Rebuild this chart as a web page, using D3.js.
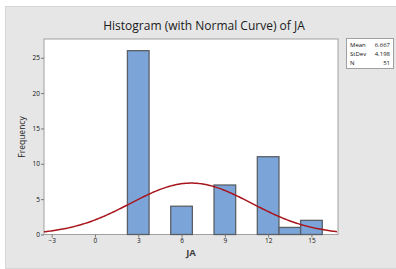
<!DOCTYPE html>
<html><head><meta charset="utf-8">
<script src="https://cdn.jsdelivr.net/npm/d3@7"></script>
<style>body{margin:0;background:#fff}svg{display:block}text{font-family:"Open Sans","Noto Sans",sans-serif}</style>
</head><body>
<svg id="c" width="396" height="269"></svg>
<script>
const binMids = [3, 4.5, 6, 7.5, 9, 10.5, 12, 13.5, 15];
const counts = [26, 0, 4, 0, 7, 0, 11, 1, 2];
const binWidth = 1.5;
const xTicks = [-3, 0, 3, 6, 9, 12, 15];
const yTicks = [0, 5, 10, 15, 20, 25];
const statLabels = ["Mean", "StDev", "N"];
const statValues = ["6.667", "4.198", "51"];
const mean = 6.667, sd = 4.198, n = 51;

const svg = d3.select("#c");
svg.append("rect").attr("x",5.5).attr("y",6.5).attr("width",392).attr("height",262)
  .attr("fill","#e6e6e6").attr("stroke","#d6d6d6");

const L=44, R=338, T=39, B=234.5;
const x = d3.scaleLinear().domain([-3.53, 16.84]).range([L, R]);
const y = d3.scaleLinear().domain([0, 27.65]).range([B, T]);

svg.append("rect").attr("x",L).attr("y",T).attr("width",R-L).attr("height",B-T)
  .attr("fill","#fff").attr("stroke","#a0a0a0");

const g = svg.append("g");
g.selectAll("rect.bar").data(binMids.map((m,i)=>({m,c:counts[i]})).filter(d=>d.c>0))
  .enter().append("rect").attr("class","bar")
  .attr("x",d=>x(d.m-binWidth/2)).attr("width",d=>x(d.m+binWidth/2)-x(d.m-binWidth/2))
  .attr("y",d=>y(d.c)).attr("height",d=>y(0)-y(d.c))
  .attr("fill","#7ba4d9").attr("stroke","#5a5f66").attr("stroke-width",1.3);

// fitted normal curve from the displayed Mean / StDev / N
const xs = d3.range(-3.53, 16.85, 0.1);
const dens = v => n*binWidth*Math.exp(-0.5*((v-mean)/sd)**2)/(sd*Math.sqrt(2*Math.PI));
g.append("path").datum(xs).attr("fill","none").attr("stroke","#a8151c").attr("stroke-width",1.5)
  .attr("d", d3.line().x(v=>x(v)).y(v=>y(dens(v))));

const xa = svg.append("g").attr("transform",`translate(0,${B})`)
  .call(d3.axisBottom(x).tickValues(xTicks).tickSize(3).tickPadding(1));
const ya = svg.append("g").attr("transform",`translate(${L},0)`)
  .call(d3.axisLeft(y).tickValues(yTicks).tickSize(3).tickPadding(1));
[xa,ya].forEach(a=>{a.select(".domain").remove();
  a.selectAll("line").attr("stroke","#777");
  a.selectAll("text").attr("font-size",6.5).attr("fill","#111").attr("font-family","'Open Sans',sans-serif");});

svg.append("text").attr("x",204).attr("y",30).attr("text-anchor","middle")
  .attr("font-size",12).attr("fill","#1a1a1a").text("Histogram (with Normal Curve) of JA");
svg.append("text").attr("transform","translate(25,137) rotate(-90)").attr("text-anchor","middle")
  .attr("font-size",8.5).attr("fill","#222").text("Frequency");
svg.append("text").attr("x",191).attr("y",256).attr("text-anchor","middle")
  .attr("font-size",9.5).attr("font-weight","bold").attr("fill","#444").text("JA");

svg.append("rect").attr("x",346.5).attr("y",38.5).attr("width",47).attr("height",30)
  .attr("fill","#fff").attr("stroke","#a0a0a0");
statLabels.forEach((s,i)=>{
  svg.append("text").attr("x",350).attr("y",47+i*9).attr("font-size",6).attr("fill","#111").text(s);
  svg.append("text").attr("x",390).attr("y",47+i*9).attr("text-anchor","end").attr("font-size",6).attr("fill","#111").text(statValues[i]);
});
</script>
</body></html>
